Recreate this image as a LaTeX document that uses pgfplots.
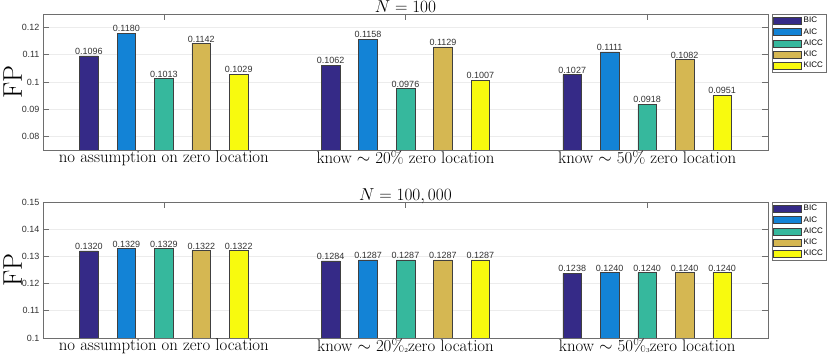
\documentclass[border=0pt]{standalone}
\usepackage{fontspec}
\usepackage{pgfplots}
\pgfplotsset{compat=1.18}
\newfontfamily\arial{Liberation Sans}

\definecolor{cbic}{RGB}{53,42,135}
\definecolor{caic}{RGB}{19,131,214}
\definecolor{caicc}{RGB}{54,184,157}
\definecolor{ckic}{RGB}{213,183,82}
\definecolor{ckicc}{RGB}{248,250,14}
\definecolor{boxgray}{RGB}{110,110,110}
\definecolor{txtgray}{RGB}{50,50,50}

\pgfplotsset{
  fpaxis/.style={
    scale only axis, width=725pt, height=136pt,
    ybar, bar width=0.077,
    xmin=0.5, xmax=3.5,
    xtick={1,2,3}, xtick pos=upper, xticklabel pos=lower,
    ytick pos=both, tick align=inside, major tick length=6pt,
    scaled y ticks=false,
    axis line style={boxgray, line width=0.8pt},
    tick style={boxgray, line width=0.6pt},
    ymajorgrids, grid style={gray!15, line width=0.6pt},
    yticklabel style={font=\arial\fontsize{9}{10}\selectfont, text=txtgray},
    xticklabel style={font=\fontsize{16.8}{18}\selectfont, inner sep=1pt},
    ylabel={FP},
    every axis y label/.style={at={(axis description cs:-0.042,0.5)}, rotate=90, anchor=center,
      font=\fontsize{27}{27}\selectfont},
    every axis title/.style={at={(0.5,1)}, anchor=base, yshift=1.2pt,
      font=\fontsize{16}{18}\selectfont},
    every axis plot/.append style={draw=black!75, line width=0.5pt},
    point meta=explicit symbolic,
    nodes near coords={\pgfplotspointmeta},
    every node near coord/.append style={font=\arial\fontsize{9}{10}\selectfont, text=txtgray, inner sep=1pt},
    legend image code/.code={\draw[#1] (0pt,-3.5pt) rectangle (28pt,3.5pt);},
    legend style={at={(1,1)}, anchor=north west, xshift=4pt,
      draw=boxgray, font=\arial\fontsize{8}{9}\selectfont,
      inner sep=1pt, row sep=0.2pt, cells={anchor=west}},
  },
}

\begin{document}
\begin{tikzpicture}
\useasboundingbox (-43pt,-205pt) rectangle (788pt,150pt);
\begin{axis}[fpaxis, at={(0,0)},
  ymin=0.075, ymax=0.125, ytick={0.08,0.09,0.1,0.11,0.12},
  yticklabels={0.08,0.09,0.1,0.11,0.12},
  title={$N=100$},
  xticklabels={no assumption on zero location, know $\sim$ 20\% zero location, know $\sim$ 50\% zero location}]
\addplot[fill=cbic, bar shift=-0.31] coordinates {(1,0.1096) [0.1096] (2,0.1062) [0.1062] (3,0.1027) [0.1027]};
\addplot[fill=caic, bar shift=-0.155] coordinates {(1,0.1180) [0.1180] (2,0.1158) [0.1158] (3,0.1111) [0.1111]};
\addplot[fill=caicc, bar shift=0] coordinates {(1,0.1013) [0.1013] (2,0.0976) [0.0976] (3,0.0918) [0.0918]};
\addplot[fill=ckic, bar shift=0.155] coordinates {(1,0.1142) [0.1142] (2,0.1129) [0.1129] (3,0.1082) [0.1082]};
\addplot[fill=ckicc, bar shift=0.31] coordinates {(1,0.1029) [0.1029] (2,0.1007) [0.1007] (3,0.0951) [0.0951]};
\legend{BIC,AIC,AICC,KIC,KICC}
\end{axis}
\begin{axis}[fpaxis, at={(0,-188pt)},
  ymin=0.1, ymax=0.15, ytick={0.1,0.11,0.12,0.13,0.14,0.15},
  yticklabels={0.1,0.11,0.12,0.13,0.14,0.15},
  title={$N=100,000$},
  xticklabels={no assumption on zero location,
    know $\sim$ 20\%\raisebox{-1pt}{\fontsize{6}{6}\selectfont 2}zero location,
    know $\sim$ 50\%\raisebox{-1pt}{\fontsize{6}{6}\selectfont 3}zero location}]
\addplot[fill=cbic, bar shift=-0.31] coordinates {(1,0.1320) [0.1320] (2,0.1284) [0.1284] (3,0.1238) [0.1238]};
\addplot[fill=caic, bar shift=-0.155] coordinates {(1,0.1329) [0.1329] (2,0.1287) [0.1287] (3,0.1240) [0.1240]};
\addplot[fill=caicc, bar shift=0] coordinates {(1,0.1329) [0.1329] (2,0.1287) [0.1287] (3,0.1240) [0.1240]};
\addplot[fill=ckic, bar shift=0.155] coordinates {(1,0.1322) [0.1322] (2,0.1287) [0.1287] (3,0.1240) [0.1240]};
\addplot[fill=ckicc, bar shift=0.31] coordinates {(1,0.1322) [0.1322] (2,0.1287) [0.1287] (3,0.1240) [0.1240]};
\legend{BIC,AIC,AICC,KIC,KICC}
\end{axis}
\end{tikzpicture}
\end{document}
